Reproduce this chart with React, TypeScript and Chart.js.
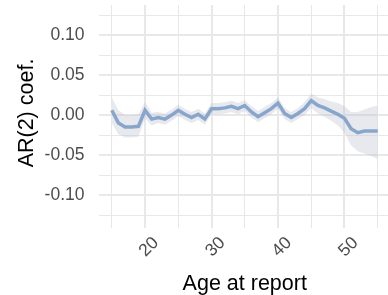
import React, { useEffect, useRef } from "react";
import { Chart, registerables } from "chart.js";

Chart.register(...registerables);

const ages = [15, 16, 17, 18, 19, 20, 21, 22, 23, 24, 25, 26, 27, 28, 29, 30, 31, 32, 33, 34, 35, 36, 37, 38, 39, 40, 41, 42, 43, 44, 45, 46, 47, 48, 49, 50, 51, 52, 53, 54, 55];
const coefMean = [0.006, -0.01, -0.015, -0.015, -0.014, 0.006, -0.005, -0.003, -0.005, 0.0, 0.006, 0.001, -0.003, 0.001, -0.005, 0.008, 0.008, 0.009, 0.011, 0.008, 0.012, 0.004, -0.002, 0.003, 0.008, 0.015, 0.002, -0.003, 0.002, 0.008, 0.018, 0.012, 0.009, 0.005, 0.001, -0.004, -0.017, -0.022, -0.02, -0.02, -0.02];
const coefHi = [0.022, 0.006, 0.0, 0.0, 0.001, 0.016, 0.003, 0.004, 0.002, 0.007, 0.013, 0.008, 0.004, 0.008, 0.002, 0.015, 0.015, 0.016, 0.018, 0.015, 0.019, 0.011, 0.005, 0.01, 0.015, 0.022, 0.009, 0.004, 0.009, 0.016, 0.027, 0.022, 0.02, 0.017, 0.015, 0.011, 0.004, 0.004, 0.007, 0.01, 0.012];
const coefLo = [-0.01, -0.024, -0.028, -0.028, -0.027, -0.004, -0.013, -0.01, -0.012, -0.007, -0.001, -0.006, -0.01, -0.006, -0.012, 0.001, 0.001, 0.002, 0.004, 0.001, 0.005, -0.003, -0.009, -0.004, 0.001, 0.008, -0.005, -0.01, -0.005, 0.0, 0.009, 0.002, -0.002, -0.007, -0.013, -0.022, -0.038, -0.045, -0.048, -0.051, -0.055];
const xTickLabels = [20, 30, 40, 50];
const yTickLabels = ["-0.10", "-0.05", "0.00", "0.05", "0.10"];
const xTitle = "Age at report";
const yTitle = "AR(2) coef.";

const FONT = "'Liberation Sans', Arial, Helvetica, sans-serif";
const GRID = "#E8E8E8";

export default function App() {
  const ref = useRef<HTMLCanvasElement | null>(null);

  useEffect(() => {
    if (!ref.current) return;
    const pts = (arr: number[]) => ages.map((a, i) => ({ x: a, y: arr[i] }));
    const isMult = (v: number, m: number) => Math.abs(Math.round(v / m) * m - v) < 1e-9;

    const labelPlugin = {
      id: "labels",
      afterDraw(chart: any) {
        const ctx = chart.ctx;
        const xs = chart.scales.x;
        const area = chart.chartArea;
        ctx.save();
        ctx.fillStyle = "#4D4D4D";
        ctx.font = `17.5px ${FONT}`;
        ctx.textAlign = "center";
        ctx.textBaseline = "middle";
        xTickLabels.forEach((v) => {
          const px = xs.getPixelForValue(v);
          ctx.save();
          ctx.translate(px + 4, 247);
          ctx.rotate(-Math.PI / 4);
          ctx.fillText(String(v), 0, 0);
          ctx.restore();
        });
        ctx.fillStyle = "#000000";
        ctx.font = `21.5px ${FONT}`;
        ctx.textBaseline = "alphabetic";
        ctx.fillText(xTitle, (area.left + area.right) / 2, 290);
        ctx.save();
        ctx.translate(33, (area.top + area.bottom) / 2 - 3.5);
        ctx.rotate(-Math.PI / 2);
        ctx.fillText(yTitle, 0, 0);
        ctx.restore();
        ctx.restore();
      },
    };

    const chart = new Chart(ref.current, {
      type: "line",
      data: {
        datasets: [
          {
            label: "mean",
            data: pts(coefMean),
            borderColor: "#88A6CC",
            borderWidth: 3.5,
            pointRadius: 0,
            tension: 0,
            fill: false,
          },
          {
            label: "hi",
            data: pts(coefHi),
            borderWidth: 0,
            borderColor: "rgba(0,0,0,0)",
            pointRadius: 0,
            tension: 0,
            fill: false,
          },
          {
            label: "lo",
            data: pts(coefLo),
            borderWidth: 0,
            borderColor: "rgba(0,0,0,0)",
            backgroundColor: "rgba(185,193,205,0.35)",
            pointRadius: 0,
            tension: 0,
            fill: "-1",
          },
        ],
      },
      options: {
        animation: false,
        responsive: false,
        layout: { padding: { top: 5, left: 0, right: 0, bottom: 0 } },
        plugins: { legend: { display: false }, tooltip: { enabled: false } },
        scales: {
          x: {
            type: "linear",
            min: 13,
            max: 57,
            afterFit: (s: any) => {
              s.height = 67;
              s.paddingLeft = 0;
              s.paddingRight = 0;
            },
            ticks: { display: false, stepSize: 5, includeBounds: false, autoSkip: false },
            border: { display: false },
            grid: {
              drawTicks: false,
              color: GRID,
              lineWidth: (c: any) => (c.tick && isMult(c.tick.value, 10) ? 2 : 1),
            },
          },
          y: {
            min: -0.141,
            max: 0.1375,
            afterFit: (s: any) => {
              s.width = 98.5;
              s.paddingTop = 0;
              s.paddingBottom = 0;
            },
            ticks: {
              stepSize: 0.025,
              includeBounds: false,
              autoSkip: false,
              padding: 14,
              color: "#4D4D4D",
              font: { family: FONT, size: 17.5 },
              callback: (v: any) => {
                const n = Number(v);
                if (!isMult(n, 0.05)) return "";
                let s = n.toFixed(2);
                if (s === "-0.00") s = "0.00";
                return yTickLabels.includes(s) ? s : "";
              },
            },
            border: { display: false },
            grid: {
              drawTicks: false,
              color: GRID,
              lineWidth: (c: any) => (c.tick && isMult(c.tick.value, 0.05) ? 2 : 1),
            },
          },
        },
      },
      plugins: [labelPlugin],
    });
    return () => chart.destroy();
  }, []);

  return (
    <div style={{ position: "absolute", left: 0, top: 0, width: 388, height: 295, overflow: "hidden", background: "#fff" }}>
      <canvas ref={ref} width={391} height={295} style={{ display: "block" }} />
    </div>
  );
}
